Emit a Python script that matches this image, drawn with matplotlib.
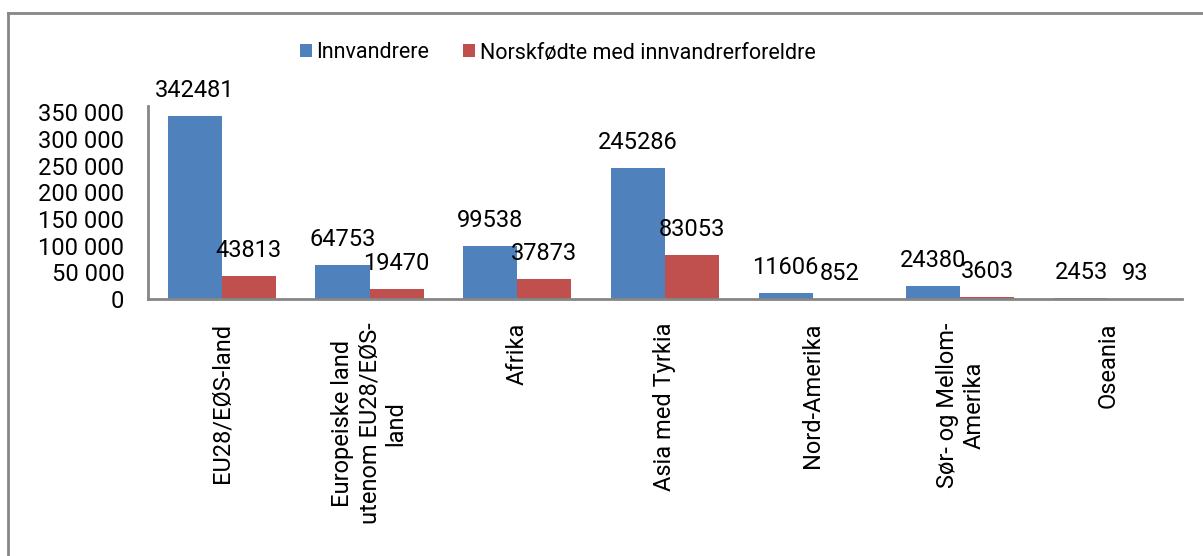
import matplotlib
matplotlib.use("Agg")
import matplotlib.pyplot as plt
import numpy as np
from matplotlib.lines import Line2D

plt.rcParams['font.family'] = ['Roboto', 'DejaVu Sans']

# data
regioner = ["EU28/EØS-land", "Europeiske land\nutenom EU28/EØS-\nland", "Afrika",
            "Asia med Tyrkia", "Nord-Amerika", "Sør- og Mellom-\nAmerika", "Oseania"]
innvandrere = [342481, 64753, 99538, 245286, 11606, 24380, 2453]
norskfodte = [43813, 19470, 37873, 83053, 852, 3603, 93]
yticks = [0, 50000, 100000, 150000, 200000, 250000, 300000, 350000]

blue = '#4F81BD'
red = '#C0504D'
fs = 17

fig = plt.figure(figsize=(12.03, 5.56), dpi=100)
ax = fig.add_axes([0.123, 0.462, 0.8595, 0.347])

x = np.arange(len(regioner))
w = 0.366
b1 = ax.bar(x - w / 2, innvandrere, w, color=blue, label='Innvandrere')
b2 = ax.bar(x + w / 2, norskfodte, w, color=red, label='Norskfødte med innvandrerforeldre')

for bars, vals in ((b1, innvandrere), (b2, norskfodte)):
    for r, v in zip(bars, vals):
        ax.annotate(str(v), (r.get_x() + r.get_width() / 2, v), xytext=(0, 10),
                    textcoords='offset points', ha='center', va='bottom', fontsize=fs)

ax.set_xlim(-0.5, len(regioner) - 0.5)
ax.set_ylim(0, 361000)
ax.set_yticks(yticks)
ax.set_yticklabels([f"{v:,}".replace(",", " ") for v in yticks], fontsize=fs)
ax.set_xticks(x)
ax.set_xticklabels(regioner, rotation=90, fontsize=fs, ha='center', va='top',
                   multialignment='center')
ax.tick_params(axis='y', length=0, pad=17)
ax.tick_params(axis='x', length=0, pad=17)

for s in ('top', 'right'):
    ax.spines[s].set_visible(False)
for s in ('left', 'bottom'):
    ax.spines[s].set_color('#868686')
    ax.spines[s].set_linewidth(2)

ax.legend(loc='center left', bbox_to_anchor=(300 / 1203, 1 - 53 / 556), bbox_transform=fig.transFigure,
          ncol=2, frameon=False, fontsize=15.5, handlelength=0.55, handleheight=0.55,
          columnspacing=1.6, handletextpad=0.2, borderpad=0, borderaxespad=0)

# chart border (Excel style)
fig.add_artist(Line2D([0.0065, 1.0], [1 - 13 / 556, 1 - 13 / 556], color='#868686', lw=2,
                      transform=fig.transFigure))
fig.add_artist(Line2D([0.0065, 0.0065], [0.0, 1 - 13 / 556], color='#868686', lw=2,
                      transform=fig.transFigure))

fig.savefig('out.png', dpi=100)
